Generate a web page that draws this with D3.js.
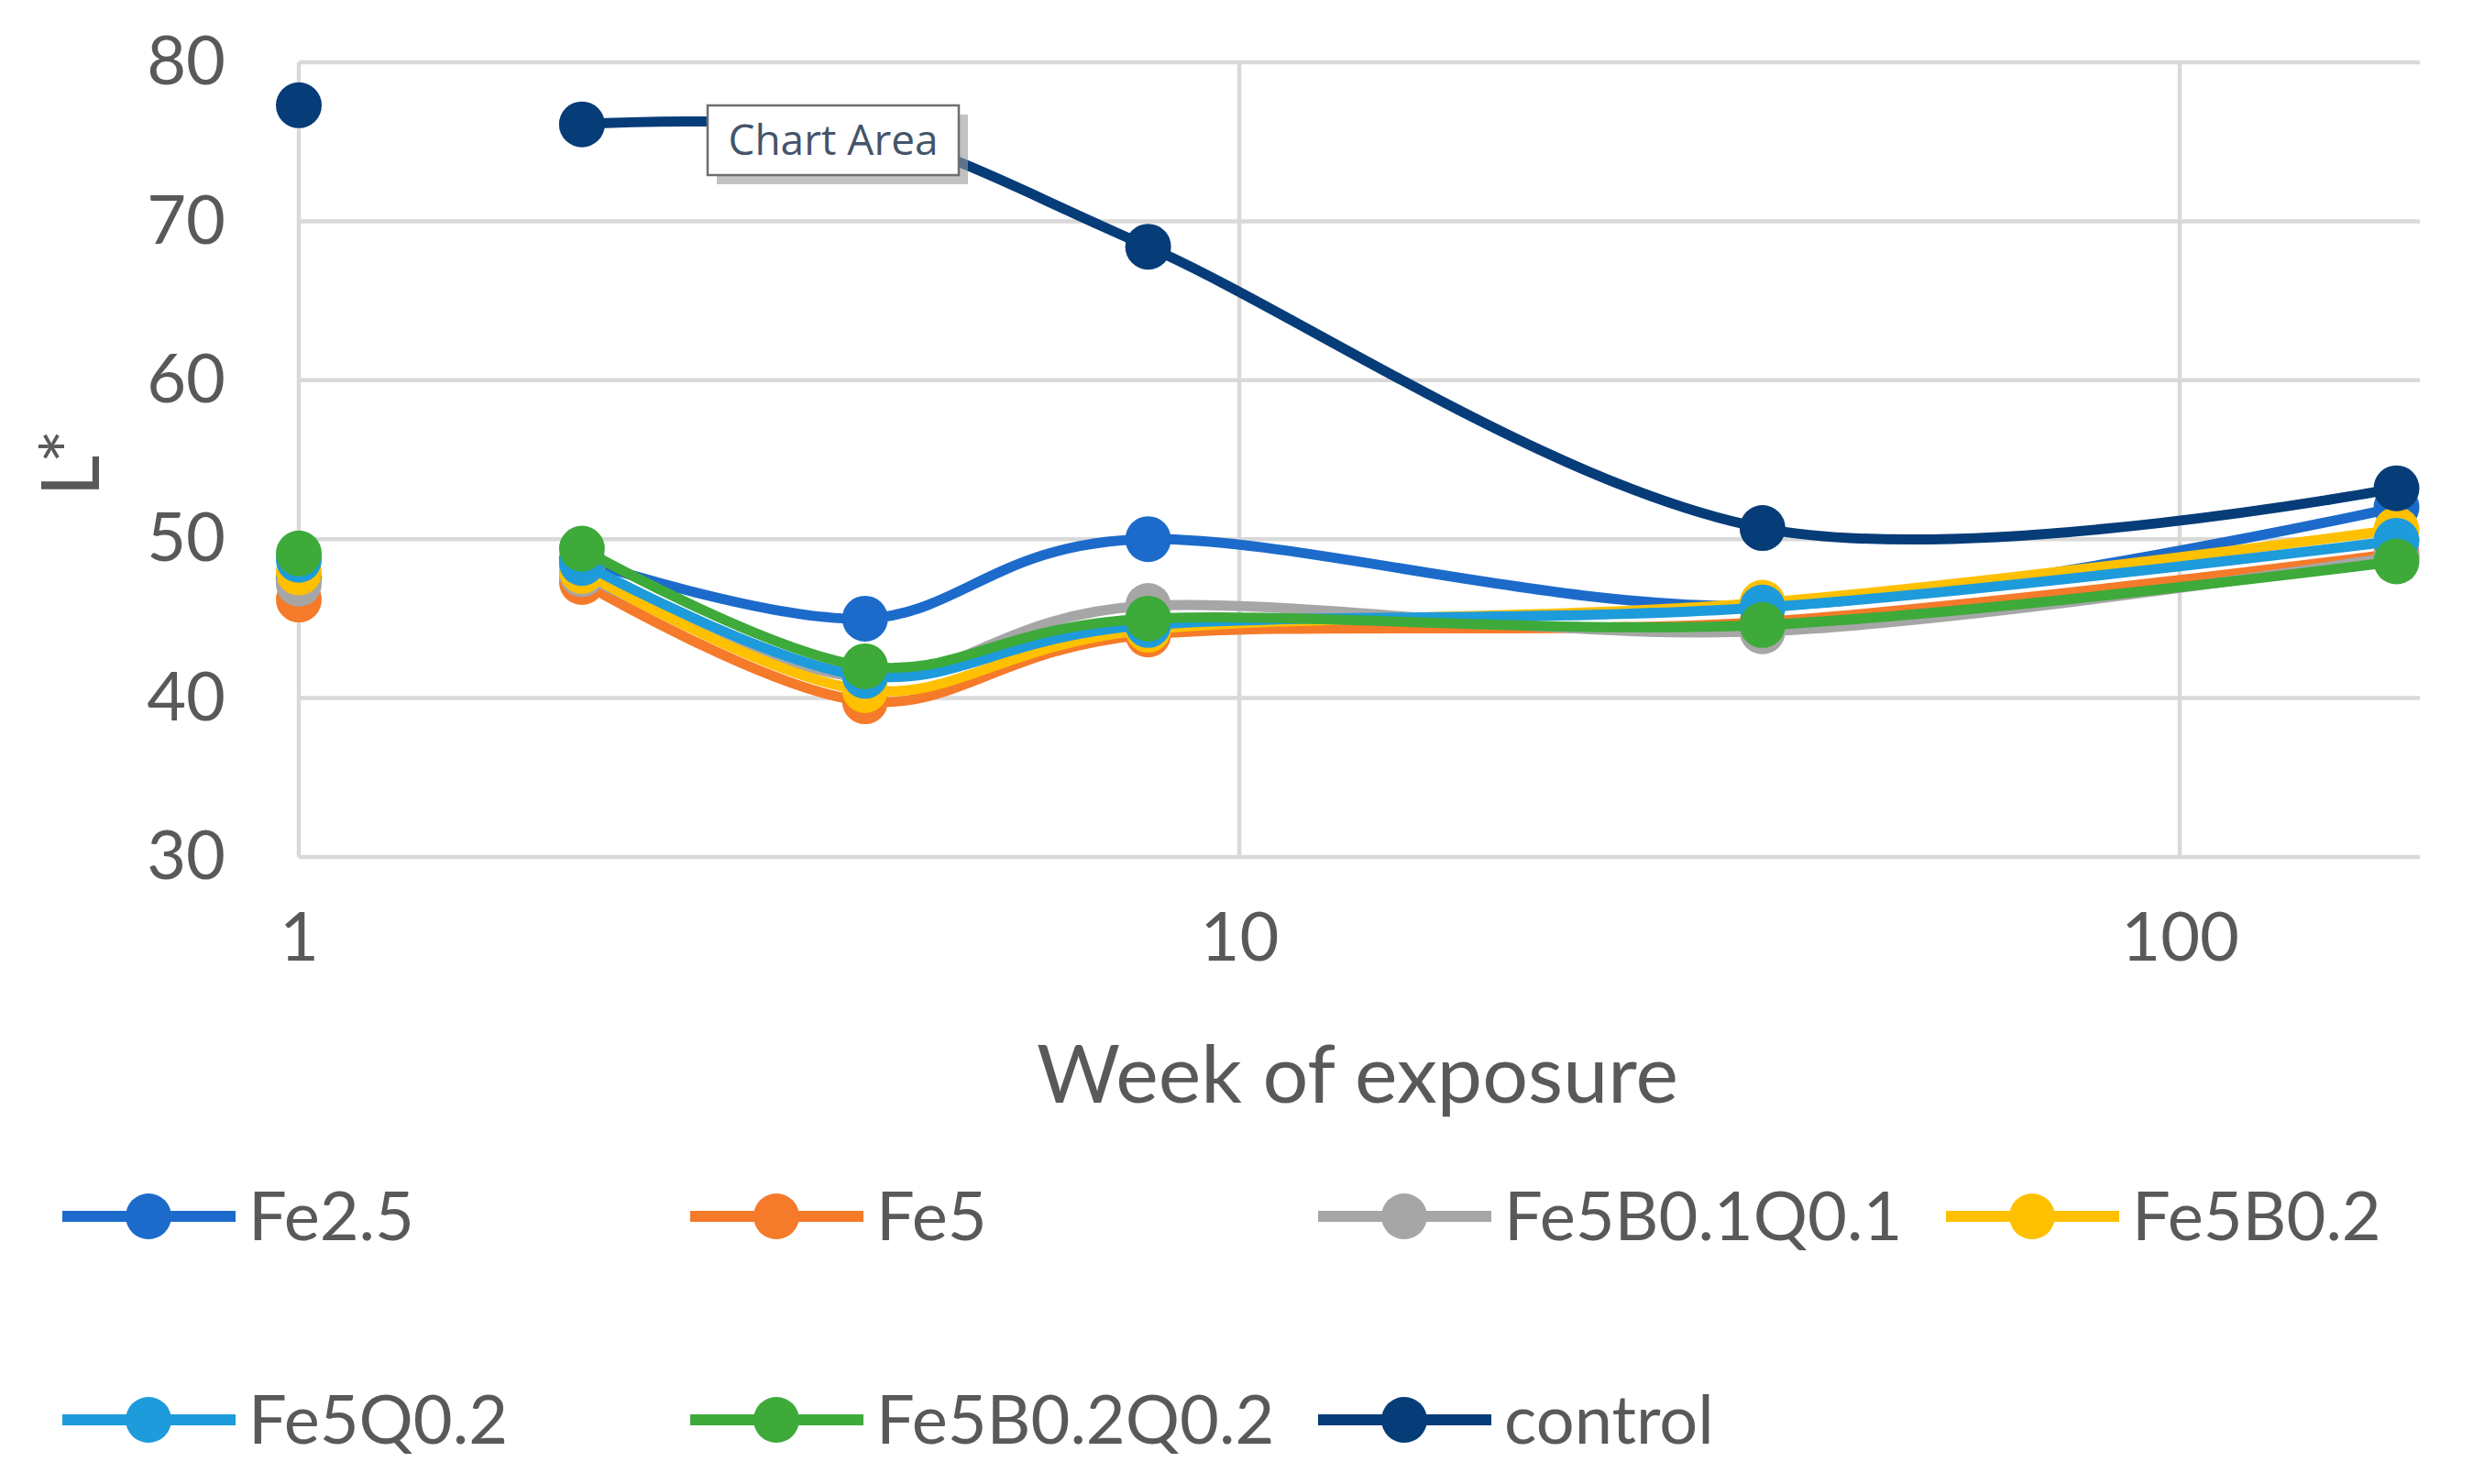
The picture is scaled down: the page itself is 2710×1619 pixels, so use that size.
<!DOCTYPE html>
<html>
<head>
<meta charset="utf-8">
<script src="https://cdn.jsdelivr.net/npm/d3@7"></script>
<style>
  html, body { margin: 0; padding: 0; background: #fff; }
  text { font-family: Lato, "Open Sans", sans-serif; }
</style>
</head>
<body>
<svg id="chart" width="2710" height="1619"></svg>
<script>
// weeks of exposure (log axis)
const weeks = [1, 2, 4, 8, 36, 170];

const seriesNames = ["Fe2.5", "Fe5", "Fe5B0.1Q0.1", "Fe5B0.2", "Fe5Q0.2", "Fe5B0.2Q0.2", "control"];
const seriesColors = ["#1c6bcb", "#f57a2a", "#a6a6a6", "#ffc000", "#1e9bdb", "#3daa3a", "#063c78"];

// L* values, one per week
const fe25 = [47.6, 48.7, 45.0, 50.0, 45.8, 52.0];
const fe5 = [46.2, 47.3, 39.8, 44.0, 44.8, 49.1];
const fe5b01q01 = [47.2, 47.8, 41.3, 45.8, 44.2, 48.9];
const fe5b02 = [47.9, 48.0, 40.5, 44.3, 46.0, 50.6];
const fe5q02 = [48.7, 48.5, 41.4, 44.6, 45.7, 49.9];
const fe5b02q02 = [49.1, 49.4, 42.0, 45.0, 44.6, 48.6];
const control = [77.3, 76.1, 75.5, 68.4, 50.7, 53.2];

const yTicks = [30, 40, 50, 60, 70, 80];
const xTicks = [1, 10, 100];

const allValues = [fe25, fe5, fe5b01q01, fe5b02, fe5q02, fe5b02q02, control];

const margin = { top: 68, left: 326, right: 70, bottom: 684 };
const width = 2710, height = 1619;

const svg = d3.select("#chart");

const x = d3.scaleLog().domain([1, 180]).range([margin.left, width - margin.right]);
const y = d3.scaleLinear().domain([30, 80]).range([height - margin.bottom, margin.top]);

// gridlines
const grid = svg.append("g").attr("stroke", "#d9d9d9").attr("stroke-width", 4.5);
grid.selectAll(".hgrid").data(yTicks).join("line")
  .attr("x1", x.range()[0]).attr("x2", x.range()[1])
  .attr("y1", d => y(d)).attr("y2", d => y(d));
grid.selectAll(".vgrid").data(xTicks).join("line")
  .attr("x1", d => x(d)).attr("x2", d => x(d))
  .attr("y1", y.range()[0]).attr("y2", y.range()[1]);

// axes (labels only, Excel style)
const yAxis = svg.append("g")
  .attr("transform", `translate(${margin.left - 80},0)`)
  .call(d3.axisLeft(y).tickValues(yTicks).tickSize(0).tickPadding(0));
const xAxis = svg.append("g")
  .attr("transform", `translate(0,${y(30) + 60})`)
  .call(d3.axisBottom(x).tickValues(xTicks).tickFormat(d3.format("d")).tickSize(0).tickPadding(0));
[yAxis, xAxis].forEach(a => {
  a.select(".domain").remove();
  a.selectAll("text").attr("fill", "#595959").attr("font-size", 74)
    .style("font-family", "Lato, sans-serif");
});
xAxis.selectAll("text").attr("dy", "0.71em");

svg.append("text")
  .attr("x", 1481).attr("y", 1203)
  .attr("text-anchor", "middle")
  .attr("fill", "#595959").attr("font-size", 88)
  .text("Week of exposure");

svg.append("text")
  .attr("transform", "translate(108,505) rotate(-90)")
  .attr("text-anchor", "middle")
  .attr("fill", "#595959").attr("font-size", 88)
  .text("L*");

// smoothed lines; there is no segment between week 1 and week 2
const line = d3.line()
  .x(d => x(d.week))
  .y(d => y(d.value))
  .curve(d3.curveCardinal.tension(0));

const plot = svg.append("g");
allValues.forEach((vals, i) => {
  const pts = weeks.map((w, j) => ({ week: w, value: vals[j] }));
  const g = plot.append("g");
  g.append("path")
    .attr("d", line(pts.slice(1)))
    .attr("fill", "none")
    .attr("stroke", seriesColors[i])
    .attr("stroke-width", 11)
    .attr("stroke-linecap", "round");
  g.selectAll("circle").data(pts).join("circle")
    .attr("cx", d => x(d.week))
    .attr("cy", d => y(d.value))
    .attr("r", 25)
    .attr("fill", seriesColors[i]);
});

// "Chart Area" tooltip left on the screenshot
const tip = svg.append("g").attr("transform", "translate(772,115)");
tip.append("rect").attr("x", 10).attr("y", 10).attr("width", 274).attr("height", 76)
  .attr("fill", "#9a9a9a").attr("opacity", 0.6);
tip.append("rect").attr("width", 274).attr("height", 76)
  .attr("fill", "#fff").attr("stroke", "#6e6e6e").attr("stroke-width", 2.5);
tip.append("text").attr("x", 137).attr("y", 54).attr("text-anchor", "middle")
  .attr("fill", "#44546a").attr("font-size", 46)
  .style("font-family", "'Open Sans', sans-serif")
  .text("Chart Area");

// legend: 4 per row
const legend = svg.append("g");
seriesNames.forEach((name, i) => {
  const col = i % 4, row = Math.floor(i / 4);
  const lg = legend.append("g")
    .attr("transform", `translate(${68 + col * 685},${1327 + row * 222})`);
  lg.append("line").attr("x1", 0).attr("x2", 189)
    .attr("stroke", seriesColors[i]).attr("stroke-width", 12);
  lg.append("circle").attr("cx", 94).attr("r", 25).attr("fill", seriesColors[i]);
  lg.append("text").attr("x", 203).attr("dy", "0.35em")
    .attr("fill", "#595959").attr("font-size", 74)
    .text(name);
});
</script>
</body>
</html>
